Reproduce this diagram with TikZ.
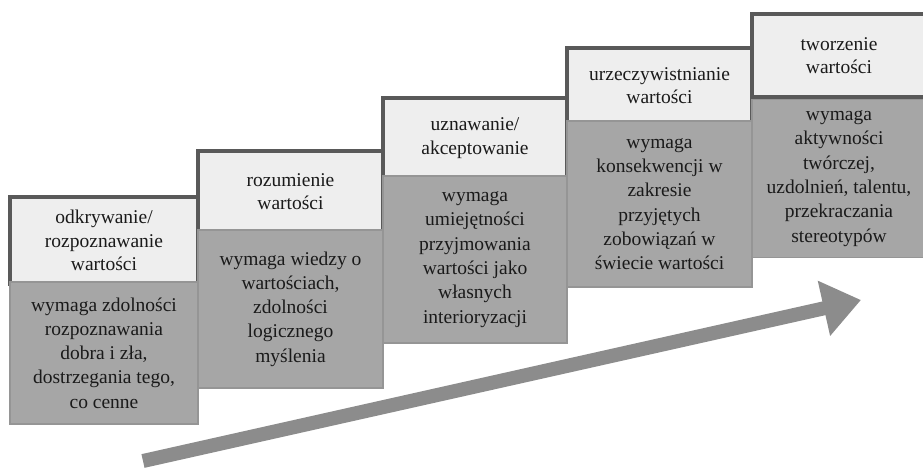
\documentclass[tikz,border=0pt]{standalone}
\usepackage{fontspec}
\setmainfont{Liberation Serif}
\usetikzlibrary{arrows.meta}
\definecolor{hdrfill}{HTML}{EEEEEE}
\definecolor{hdrline}{HTML}{595959}
\definecolor{bodyfill}{HTML}{A6A6A6}
\definecolor{bodyline}{HTML}{959595}
\definecolor{arrowgray}{HTML}{8C8C8C}
\definecolor{txt}{HTML}{1A1A1A}
\begin{document}
\begin{tikzpicture}[x=1pt,y=-1pt,
  hdr/.style={draw=hdrline, line width=3.5pt, fill=hdrfill, anchor=north west,
    inner sep=0pt, outer sep=0pt, align=center, text=txt,
    font=\rmfamily\fontsize{19.5}{23.5}\selectfont},
  bodybox/.style={draw=bodyline, line width=1.5pt, fill=bodyfill, anchor=north west,
    inner sep=0pt, outer sep=0pt, align=center, text=txt,
    font=\rmfamily\fontsize{19.5}{24.3}\selectfont}]
\useasboundingbox (0,0) rectangle (923,470);
\clip (0,0) rectangle (923,470);
\fill[white] (0,0) rectangle (923,470);
% box 1
\node[hdr, minimum width=188pt, minimum height=87pt] (h1) at (10,197)
  {odkrywanie/\\rozpoznawanie\\wartości};
\node[bodybox, minimum width=188pt, minimum height=142pt] (b1) at (10,282)
  {wymaga zdolności\\rozpoznawania\\dobra i zła,\\dostrzegania tego,\\co cenne};
% box 2
\node[hdr, minimum width=185pt, minimum height=81pt] (h2) at (198,151)
  {rozumienie\\wartości};
\node[bodybox, minimum width=185pt, minimum height=158pt] (b2) at (198,230)
  {wymaga wiedzy o\\wartościach,\\zdolności\\logicznego\\myślenia};
% box 3
\node[hdr, minimum width=184pt, minimum height=80pt] (h3) at (383,98)
  {uznawanie/\\akceptowanie};
\node[bodybox, minimum width=184pt, minimum height=167pt] (b3) at (383,176)
  {wymaga\\umiejętności\\przyjmowania\\wartości jako\\własnych\\interioryzacji};
% box 4
\node[hdr, minimum width=185pt, minimum height=75pt] (h4) at (567,48)
  {urzeczywistnianie\\wartości};
\node[bodybox, minimum width=185pt, minimum height=166pt] (b4) at (567,121)
  {wymaga\\konsekwencji w\\zakresie\\przyjętych\\zobowiązań w\\świecie wartości};
% box 5
\node[hdr, minimum width=174pt, minimum height=83pt] (h5) at (752,14)
  {tworzenie\\wartości};
\node[bodybox, minimum width=174pt, minimum height=158pt] (b5) at (752,99.5)
  {wymaga\\aktywności\\twórczej,\\uzdolnień, talentu,\\przekraczania\\stereotypów};
% arrow
\coordinate (atail) at (143,461);
\coordinate (atip) at (861,300);
\draw[arrowgray, line width=14pt, -{Triangle[length=38pt,width=54pt]}] (atail) -- (atip);
\end{tikzpicture}
\end{document}
